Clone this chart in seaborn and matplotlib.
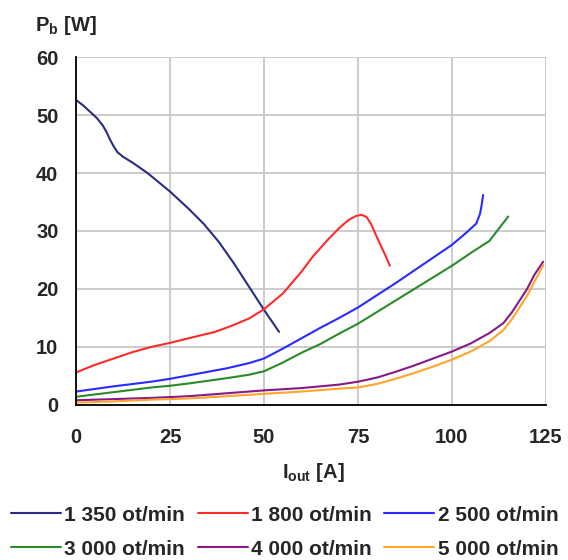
import numpy as np
import pandas as pd
import seaborn as sns
import matplotlib.pyplot as plt
from matplotlib.ticker import MultipleLocator

sns.set_style('white')
plt.rcParams['font.family'] = ['Liberation Sans', 'DejaVu Sans']
plt.rcParams['font.weight'] = 'bold'
plt.rcParams['mathtext.fontset'] = 'custom'
plt.rcParams['mathtext.bf'] = 'Liberation Sans:bold'
plt.rcParams['mathtext.rm'] = 'Liberation Sans:bold'

# values
labels = ['1 350 ot/min', '1 800 ot/min', '2 500 ot/min',
          '3 000 ot/min', '4 000 ot/min', '5 000 ot/min']
colors = ['#2b2b85', '#ff2a2a', '#2a2aff', '#2a8a2a', '#861a86', '#ffa52a']

i_1350 = [0, 2, 4, 5.5, 7, 8, 9, 10, 11, 12.5, 15, 19, 25, 30, 34, 38, 42, 46, 50, 54]
p_1350 = [52.6, 51.6, 50.4, 49.5, 48.3, 47.2, 45.8, 44.6, 43.6, 42.8, 41.8, 40, 36.8, 33.8, 31.2, 28.1, 24.4, 20.4, 16.4, 12.6]

i_1800 = [0, 5, 10, 15, 20, 25, 30, 37, 42, 46, 50, 55, 60, 63, 67, 70, 72.5, 74.5, 76, 77.3, 78.5, 80, 82, 83.5]
p_1800 = [5.6, 6.9, 8, 9.1, 10, 10.7, 11.5, 12.6, 13.8, 14.9, 16.5, 19.2, 23, 25.6, 28.5, 30.5, 31.9, 32.6, 32.8, 32.4, 31.2, 29, 26.2, 24]

i_2500 = [0, 10, 20, 25, 30, 40, 46, 50, 55, 60, 65, 70, 75, 80, 85, 90, 95, 100, 104, 106.5, 107.5, 108, 108.3]
p_2500 = [2.3, 3.2, 4, 4.5, 5.1, 6.3, 7.2, 8, 9.7, 11.5, 13.3, 15, 16.8, 18.9, 21, 23.2, 25.4, 27.6, 29.8, 31.3, 33, 34.8, 36.2]

i_3000 = [0, 10, 20, 25, 30, 40, 46, 50, 55, 60, 65, 70, 75, 80, 85, 90, 95, 100, 105, 110, 112, 115]
p_3000 = [1.4, 2.2, 3, 3.3, 3.7, 4.6, 5.2, 5.8, 7.3, 9, 10.5, 12.3, 14, 16, 18, 20, 22, 24, 26.2, 28.3, 30, 32.5]

i_4000 = [0, 10, 20, 30, 40, 50, 60, 70, 75, 80, 85, 90, 95, 100, 105, 110, 113.7, 116, 118, 120, 122, 124.3]
p_4000 = [0.8, 1, 1.2, 1.5, 2, 2.5, 2.9, 3.5, 4, 4.7, 5.7, 6.8, 8, 9.2, 10.6, 12.4, 14.1, 16, 18, 20, 22.5, 24.7]

i_5000 = [0, 10, 20, 30, 40, 50, 60, 70, 75, 80, 85, 90, 95, 100, 105, 110, 113.7, 116, 118, 120, 122, 124.3]
p_5000 = [0.4, 0.6, 0.9, 1.1, 1.5, 1.9, 2.3, 2.8, 3, 3.6, 4.5, 5.5, 6.6, 7.8, 9.2, 11, 12.9, 14.8, 16.8, 18.8, 21.3, 24.1]

series = [(i_1350, p_1350), (i_1800, p_1800), (i_2500, p_2500),
          (i_3000, p_3000), (i_4000, p_4000), (i_5000, p_5000)]

frames = []
for lab, (xs, ys) in zip(labels, series):
    frames.append(pd.DataFrame({'I': xs, 'P': ys, 'speed': lab}))
df = pd.concat(frames, ignore_index=True)

fig = plt.figure(figsize=(5.68, 5.6), dpi=100)
ax = fig.add_axes([0.134, 0.277, 0.827, 0.621])

sns.lineplot(data=df, x='I', y='P', hue='speed', hue_order=labels,
             palette=colors, sort=False, estimator=None, linewidth=1.5,
             legend=False, ax=ax)

ax.set_xlim(0, 125)
ax.set_ylim(0, 60)
ax.xaxis.set_major_locator(MultipleLocator(25))
ax.yaxis.set_major_locator(MultipleLocator(10))
ax.yaxis.set_minor_locator(MultipleLocator(5))
ax.grid(True, color='#c8c8c8', linewidth=1.3)
ax.set_axisbelow(True)
for s in ['top', 'right']:
    ax.spines[s].set_visible(False)
for s in ['left', 'bottom']:
    ax.spines[s].set_color('black')
    ax.spines[s].set_linewidth(1.3)
ax.tick_params(axis='both', which='major', direction='inout', length=11.5,
               width=1.3, color='black', labelsize=14.5)
ax.tick_params(axis='y', which='minor', direction='in', length=4.3, width=1.3, color='black')
ax.tick_params(axis='y', which='major', pad=7)
ax.tick_params(axis='x', which='major', pad=11)
ax.set_xlabel('')
ax.set_ylabel('')

fig.text(0.062, 0.955, r'P$_\mathbf{b}$ [W]', fontsize=14.5, fontweight='bold',
         ha='left', va='center')
fig.text(0.497, 0.157, r'I$_\mathbf{out}$ [A]', fontsize=14.5, fontweight='bold',
         ha='left', va='center')

handles = [plt.Line2D([], [], color=c, linewidth=1.5) for c in colors]
order = [0, 3, 1, 4, 2, 5]
fig.legend([handles[k] for k in order], [labels[k] for k in order],
           loc='upper left', bbox_to_anchor=(0.019, 0.097), ncol=3,
           frameon=False, fontsize=15, handlelength=2.4, handletextpad=0.15,
           columnspacing=0.62, borderaxespad=0, borderpad=0, labelspacing=0.72)

fig.savefig('out.png', dpi=100)
